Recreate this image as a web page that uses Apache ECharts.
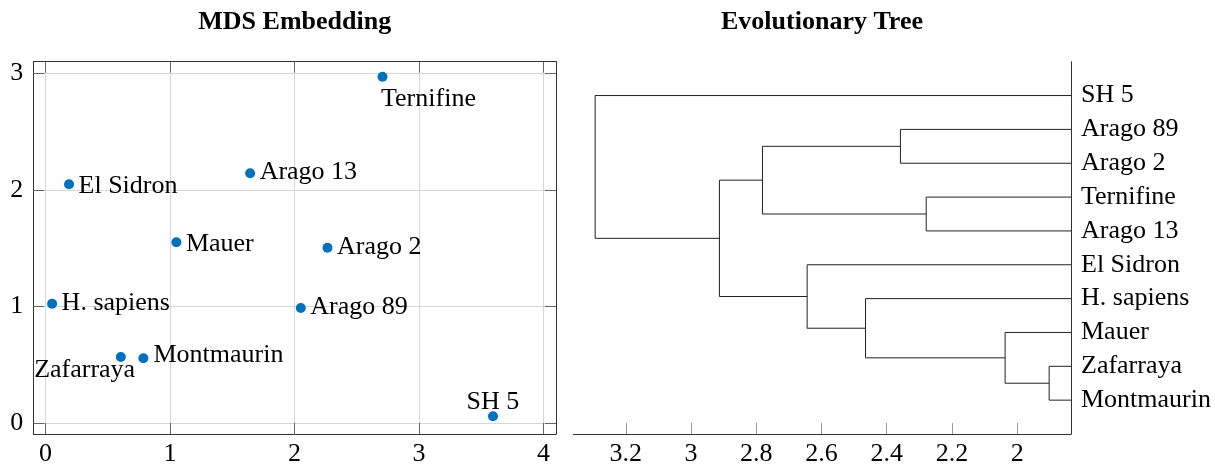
<!DOCTYPE html>
<html><head><meta charset="utf-8">
<script src="https://cdn.jsdelivr.net/npm/echarts@6/dist/echarts.min.js"></script>
<style>html,body{margin:0;padding:0;background:#fff}#c{width:1215px;height:464px}</style>
</head><body><div id="c"></div>
<script>
// ---- MDS embedding data ----
const specimenNames = ['Ternifine','El Sidron','Arago 13','Mauer','Arago 2','H. sapiens','Arago 89','Zafarraya','Montmaurin','SH 5'];
const mdsX = [2.707, 0.19, 1.644, 1.052, 2.265, 0.054, 2.051, 0.606, 0.787, 3.594];
const mdsY = [2.971, 2.05, 2.143, 1.552, 1.505, 1.025, 0.988, 0.568, 0.557, 0.06];
const mdsXTicks = [0, 1, 2, 3, 4];
const mdsYTicks = [0, 1, 2, 3];

// ---- Dendrogram data ----
const leafNames = ['SH 5','Arago 89','Arago 2','Ternifine','Arago 13','El Sidron','H. sapiens','Mauer','Zafarraya','Montmaurin'];
// children: leaf index (< leafNames.length) or leafNames.length + merge index
const mergeLeft  = [8, 7, 3, 1, 6, 5, 13, 16, 0];
const mergeRight = [9, 10, 4, 2, 11, 14, 12, 15, 17];
const mergeHeight = [1.902, 2.037, 2.279, 2.358, 2.465, 2.644, 2.781, 2.913, 3.294];
const treeTicks = [2, 2.2, 2.4, 2.6, 2.8, 3, 3.2];

// ---- styles / layout ----
const FONT = 'Liberation Serif';
const FS = 26;
const treeMin = 1.835, treeMax = 3.361;
const labelPlacement = {
  'Ternifine': {dx: -1.5, dy: 22.5, align: 'left'},
  'SH 5': {dx: 0, dy: -14, align: 'center'},
  'Zafarraya': {dx: 14.3, dy: 13.5, align: 'right'},
  'Montmaurin': {dx: 10, dy: -3, align: 'left'}
};
const SYM = 10;

const scatterData = specimenNames.map((n, i) => {
  const p = labelPlacement[n] || {dx: 9.5, dy: /[gpqyj]/.test(n) ? -1 : 2, align: 'left'};
  return {
    name: n, value: [mdsX[i], mdsY[i]],
    label: {show: true, formatter: '{b}', position: [SYM/2 + p.dx, SYM/2 + p.dy],
            align: p.align, verticalAlign: 'middle',
            fontFamily: FONT, fontSize: FS, color: '#000', opacity: 1}
  };
});

// dendrogram segments
const nLeaf = leafNames.length;
const nodeY = leafNames.map((_, i) => i);
const nodeH = leafNames.map(() => treeMin);
mergeHeight.forEach((h, k) => {
  const a = mergeLeft[k], b = mergeRight[k];
  nodeY.push((nodeY[a] + nodeY[b]) / 2);
  nodeH.push(h);
});
const treeSeries = mergeHeight.map((h, k) => {
  const a = mergeLeft[k], b = mergeRight[k];
  return {
    type: 'line', xAxisIndex: 2, yAxisIndex: 2, symbol: 'none', silent: true,
    animation: false,
    lineStyle: {color: '#222', width: 1},
    data: [[nodeH[a], nodeY[a]], [h, nodeY[a]], [h, nodeY[b]], [nodeH[b], nodeY[b]]]
  };
});

const axisLineStyle = {show: true, onZero: false, lineStyle: {color: '#333', width: 1}};
const labelStyle = {fontFamily: FONT, fontSize: FS, color: '#000'};

const chart = echarts.init(document.getElementById('c'), null, {renderer: 'canvas'});
chart.setOption({
  animation: false,
  backgroundColor: '#fff',
  title: [
    {text: 'MDS Embedding', left: 294.7, top: 9, textAlign: 'center', padding: 0,
     textStyle: {fontFamily: FONT, fontSize: FS, fontWeight: 'bold', color: '#000'}},
    {text: 'Evolutionary Tree', left: 822, top: 9, textAlign: 'center', padding: 0,
     textStyle: {fontFamily: FONT, fontSize: FS, fontWeight: 'bold', color: '#000'}}
  ],
  grid: [
    {left: 33.3, top: 61.7, right: 1215 - 556, bottom: 30, containLabel: false, outerBoundsMode: 'none'},
    {left: 573.3, top: 61.7, right: 1215 - 1071, bottom: 30, containLabel: false, outerBoundsMode: 'none'}
  ],
  xAxis: [
    {type: 'value', gridIndex: 0, position: 'bottom', min: -0.097, max: 4.1,
     axisLine: axisLineStyle,
     axisTick: {show: true, inside: true, length: 11, customValues: mdsXTicks, lineStyle: {color: '#666'}},
     axisLabel: Object.assign({customValues: mdsXTicks, margin: 7}, labelStyle),
     splitLine: {show: true, lineStyle: {color: '#d6d6d6', width: 1}}},
    {type: 'value', gridIndex: 0, position: 'top', min: -0.097, max: 4.1,
     axisLine: axisLineStyle,
     axisTick: {show: true, inside: true, length: 11, customValues: mdsXTicks, lineStyle: {color: '#666'}},
     axisLabel: {show: false}, splitLine: {show: false}},
    {type: 'value', gridIndex: 1, position: 'bottom', inverse: true, min: treeMin, max: treeMax,
     axisLine: axisLineStyle,
     axisTick: {show: true, inside: true, length: 11, customValues: treeTicks, lineStyle: {color: '#999'}},
     axisLabel: Object.assign({customValues: treeTicks, margin: 7}, labelStyle),
     splitLine: {show: false}}
  ],
  yAxis: [
    {type: 'value', gridIndex: 0, position: 'left', min: -0.092, max: 3.1,
     axisLine: axisLineStyle,
     axisTick: {show: true, inside: true, length: 11, customValues: mdsYTicks, lineStyle: {color: '#666'}},
     axisLabel: Object.assign({customValues: mdsYTicks, margin: 10}, labelStyle),
     splitLine: {show: true, lineStyle: {color: '#d6d6d6', width: 1}}},
    {type: 'value', gridIndex: 0, position: 'right', min: -0.092, max: 3.1,
     axisLine: axisLineStyle,
     axisTick: {show: true, inside: true, length: 11, customValues: mdsYTicks, lineStyle: {color: '#666'}},
     axisLabel: {show: false}, splitLine: {show: false}},
    {type: 'value', gridIndex: 1, position: 'right', inverse: true, min: -1, max: nLeaf, interval: 1,
     axisLine: axisLineStyle,
     axisTick: {show: false},
     axisLabel: Object.assign({margin: 10, padding: [5, 0, 0, 0],
       formatter: v => (leafNames[v] !== undefined ? leafNames[v] : '')}, labelStyle),
     splitLine: {show: false}}
  ],
  series: [
    {type: 'scatter', xAxisIndex: 0, yAxisIndex: 0, symbol: 'circle', symbolSize: SYM,
     itemStyle: {color: '#0072BD', opacity: 1}, data: scatterData, silent: true}
  ].concat(treeSeries)
});
</script>
</body></html>
